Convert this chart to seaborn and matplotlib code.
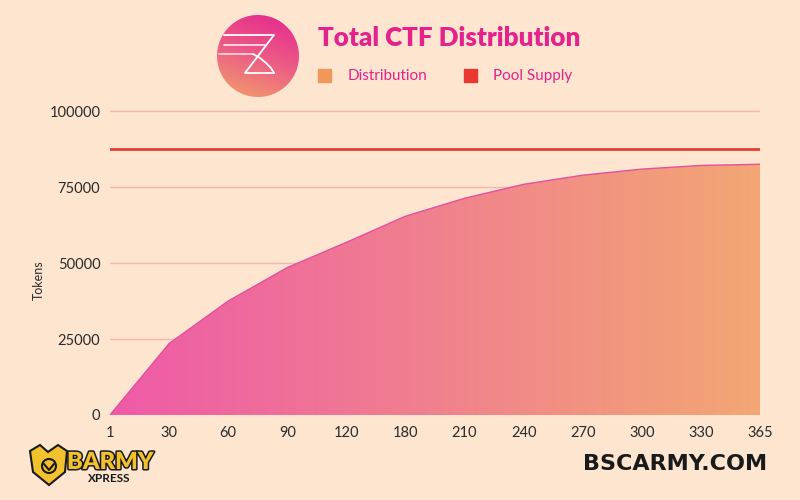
import numpy as np
import matplotlib
matplotlib.use("Agg")
import matplotlib.pyplot as plt
import seaborn as sns
from matplotlib.colors import LinearSegmentedColormap
from matplotlib.patches import Circle, Rectangle, Polygon
import matplotlib.patheffects as pe

# data
days = ["1", "30", "60", "90", "120", "180", "210", "240", "270", "300", "330", "365"]
distribution = [0, 23500, 37500, 48500, 56800, 65400, 71300, 75900, 78900, 80900, 82100, 82500]
pool_supply = 87500
y_ticks = [0, 25000, 50000, 75000, 100000]

bg = "#FDE5D0"
pink = "#E3228C"

sns.set_theme(style="white", rc={"figure.facecolor": bg, "axes.facecolor": bg})
plt.rcParams["font.family"] = ["Lato", "DejaVu Sans"]

fig = plt.figure(figsize=(8, 5), dpi=100)
ax = fig.add_axes([110 / 800, 1 - 415 / 500, 650 / 800, 310 / 500])

pos = np.arange(len(days))

# gradient area under the distribution curve
area = ax.fill_between(pos, distribution, 0, color="none", linewidth=0)
grad_cmap = LinearSegmentedColormap.from_list("dist", ["#EE5AA8", "#F0818D", "#F3A774"])
im = ax.imshow(np.linspace(0, 1, 256).reshape(1, -1), extent=[0, len(days) - 1, 0, 102000],
               aspect="auto", cmap=grad_cmap, origin="lower", zorder=2)
im.set_clip_path(area.get_paths()[0], transform=ax.transData)

sns.lineplot(x=pos, y=distribution, ax=ax, color="#E4509E", linewidth=1, zorder=3)
ax.axhline(pool_supply, color="#E2403A", linewidth=2, zorder=3)

ax.set_xlim(0, len(days) - 1)
ax.set_ylim(0, 102000)
ax.set_xticks(pos)
ax.set_xticklabels(days)
ax.set_yticks(y_ticks)
ax.set_yticklabels([str(v) for v in y_ticks])
ax.tick_params(axis="both", length=0, labelsize=10.5, colors="#2b2b2b")
ax.tick_params(axis="x", pad=8)
ax.tick_params(axis="y", pad=7)
ax.yaxis.grid(True, color="#F6B3B0", linewidth=1)
ax.set_axisbelow(True)
for s in ax.spines.values():
    s.set_visible(False)
ax.set_ylabel("Tokens", fontsize=9, color="#2b2b2b")
ax.yaxis.set_label_coords(-0.1, 0.435)
ax.set_xlabel("")

# decorations in pixel coordinates
deco = fig.add_axes([0, 0, 1, 1], facecolor="none")
deco.set_zorder(5)

# round logo
logo_cmap = LinearSegmentedColormap.from_list("logo", ["#E5258E", "#EC5B86", "#F2A06A"])
gy, gx = np.mgrid[0:1:100j, 0:1:100j]
logo = deco.imshow(0.75 * gy + 0.25 * (1 - gx), extent=[217, 299, 97, 15], cmap=logo_cmap, zorder=1)
circ = Circle((258, 56), 41, transform=deco.transData)
logo.set_clip_path(circ)
wline = dict(color="white", lw=1.3, zorder=2, solid_capstyle="round")
deco.plot([224, 274, 245, 274], [35, 35, 73, 73], **wline)
deco.plot([224, 265], [45, 45], alpha=0.8, **wline)
deco.plot([219, 253], [54, 54], alpha=0.7, **wline)
deco.plot([253, 260, 266, 271, 274], [54, 58, 63, 68, 73], **wline)

deco.text(318, 38, "Total CTF Distribution", fontsize=18.7, fontweight="heavy", color=pink,
          va="center", ha="left")
deco.add_patch(Rectangle((318, 69), 13, 13, color="#F0975A"))
deco.text(348, 76, "Distribution", fontsize=11, color=pink, va="center")
deco.add_patch(Rectangle((464, 69), 13, 13, color="#E8382F"))
deco.text(493, 76, "Pool Supply", fontsize=11, color=pink, va="center")

# bottom-left brand
shield = Polygon([(30, 451), (40, 445), (48, 452), (58, 445), (67, 451), (65, 472), (49, 485), (33, 472)],
                 closed=True, facecolor="#F2C12E", edgecolor="#1a1a1a", lw=1.5)
deco.add_patch(shield)
deco.add_patch(Circle((49, 466), 7, facecolor="#F2C12E", edgecolor="#1a1a1a", lw=1.5))
deco.plot([44, 49, 54], [464, 470, 464], color="#1a1a1a", lw=1.5)
deco.text(67, 462, "BARMY", fontsize=17, fontweight="heavy", color="#F2C12E", va="center",
          path_effects=[pe.withStroke(linewidth=2.2, foreground="#1a1a1a")])
deco.text(88, 478, "XPRESS", fontsize=8.5, fontweight="bold", color="#1a1a1a", va="center")

# bottom-right brand
deco.text(767, 464, "BSCARMY.COM", fontsize=16, fontweight="heavy", color="#1a1a1a",
          va="center", ha="right", family=["DejaVu Sans"])

deco.set_xlim(0, 800)
deco.set_ylim(500, 0)
deco.axis("off")

fig.savefig("out.png", dpi=100, facecolor=bg)
